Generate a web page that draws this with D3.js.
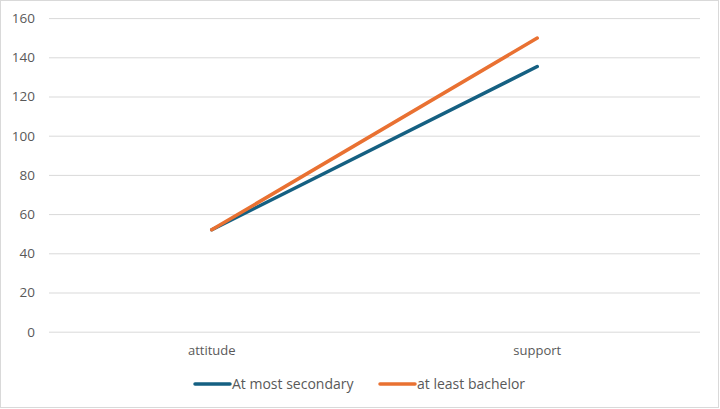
<!DOCTYPE html>
<html><head><meta charset="utf-8">
<script src="https://cdn.jsdelivr.net/npm/d3@7"></script>
<style>body{margin:0;background:#fff}svg{display:block}text{font-family:"Open Sans","Liberation Sans",sans-serif;fill:#595959}</style>
</head><body><svg id="c" width="720" height="409"></svg>
<script>
const categories = ["attitude", "support"];
const seriesNames = ["At most secondary", "at least bachelor"];
const secondary = [52, 135.3];
const bachelor = [52, 149.8];
const yTicks = [0, 20, 40, 60, 80, 100, 120, 140, 160];
const colors = ["#156082", "#E97132"];

const svg = d3.select("#c");
svg.append("rect").attr("x",0.5).attr("y",0.5).attr("width",718).attr("height",407)
  .attr("fill","#fff").attr("stroke","#d9d9d9");

const x = d3.scaleBand().domain(categories).range([49, 700]);
const y = d3.scaleLinear().domain([0,160]).range([331.7, 18.1]);

const yAxis = d3.axisLeft(y).tickValues(yTicks).tickSize(-651).tickPadding(14);
const gy = svg.append("g").attr("transform","translate(49,0)").call(yAxis);
gy.select(".domain").remove();
gy.selectAll(".tick line").attr("stroke","#d9d9d9").attr("stroke-width",1);
gy.selectAll(".tick text").attr("font-size",13.5).style("fill","#595959");

const xAxis = d3.axisBottom(x).tickSize(0).tickPadding(14);
const gx = svg.append("g").attr("transform","translate(0,331.7)").call(xAxis);
gx.select(".domain").remove();
gx.selectAll(".tick text").attr("font-size",13).style("fill","#595959");

const data = [secondary, bachelor];
const line = d3.line().x((d,i)=>x(categories[i])+x.bandwidth()/2).y(d=>y(d));
data.forEach((s,k)=>{
  svg.append("path").datum(s).attr("d",line).attr("fill","none")
    .attr("stroke",colors[k]).attr("stroke-width",3.5).attr("stroke-linecap","round");
});

const legX = [195, 380];
seriesNames.forEach((n,k)=>{
  const g = svg.append("g").attr("transform",`translate(${legX[k]},384)`);
  g.append("line").attr("x1",0).attr("x2",35).attr("y1",0).attr("y2",0)
    .attr("stroke",colors[k]).attr("stroke-width",3.5).attr("stroke-linecap","round");
  g.append("text").attr("x",37).attr("y",0).attr("dy","0.35em").attr("font-size",14).text(n);
});
</script></body></html>
